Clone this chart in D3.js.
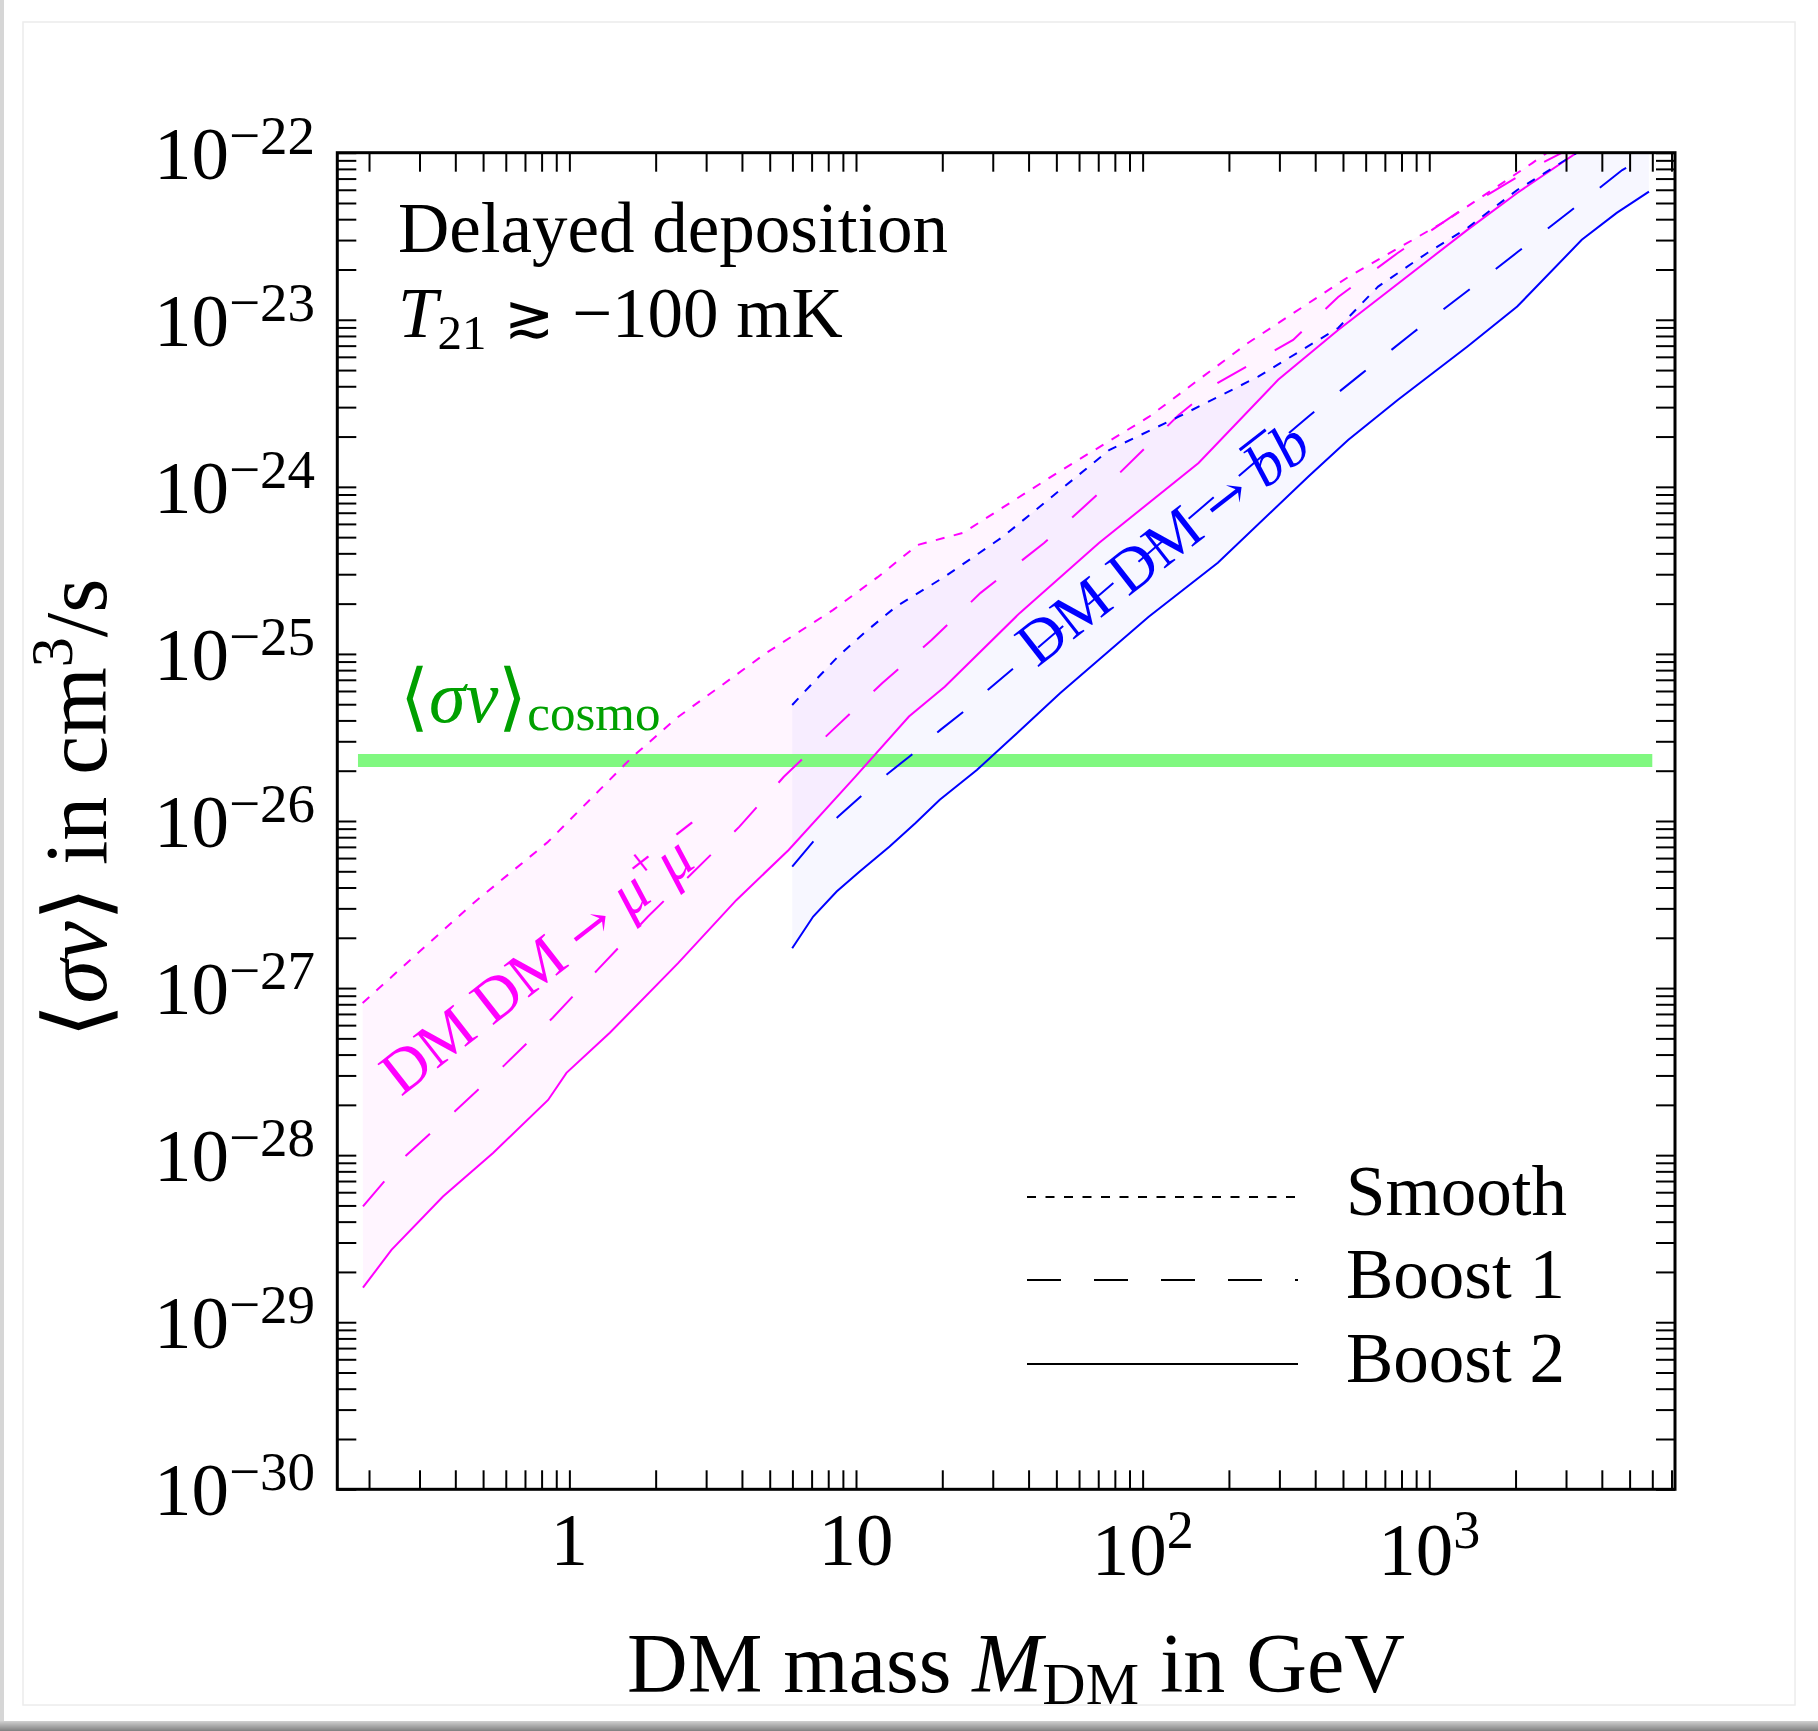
<!DOCTYPE html>
<html><head><meta charset="utf-8">
<script src="https://cdn.jsdelivr.net/npm/d3@7"></script>
<style>
body{margin:0;background:#fff}
svg{display:block}
text{font-family:"Liberation Serif","Times New Roman",serif}
</style>
</head><body><svg id="c" width="1818" height="1731"></svg>
<script>
// ---------- data (x: DM mass in GeV, y: <sigma v> in cm^3/s) ----------
const mumuSmooth = [[0.19,8.15e-28],[0.46,3.2e-27],[0.841,7.48e-27],[1.66,2.42e-26],[2.37,4.14e-26],[4.85,1.01e-25],[8.3,1.83e-25],[11.9,2.88e-25],[16.4,4.49e-25],[23.6,5.30e-25],[51,1.23e-24],[105,2.62e-24],[233,7.26e-24],[521,1.80e-23],[1153,3.95e-23],[2287,8.67e-23],[2580,1.0e-22]];
const mumuBoost1 = [[0.1905,4.93e-29],[0.27,1.0e-28],[0.404,1.87e-28],[0.595,3.47e-28],[0.875,6.64e-28],[1.256,1.29e-27],[1.877,2.67e-27],[3.92,9.25e-27],[5.6,1.84e-26],[8.3,3.51e-26],[12.36,6.70e-26],[18.35,1.21e-25],[27.2,2.32e-25],[45.3,4.61e-25],[70.5,9.18e-25],[133.6,2.69e-24],[183,4.19e-24],[335,7.57e-24],[481,1.37e-23],[776,2.51e-23],[1250,4.36e-23],[2323,8.20e-23],[2910,1.0e-22]];
const mumuBoost2 = [[0.1905,1.61e-29],[0.2395,2.71e-29],[0.3623,5.65e-29],[0.5417,1.03e-28],[0.843,2.14e-28],[0.977,3.11e-28],[1.384,5.40e-28],[2.395,1.41e-27],[3.83,3.37e-27],[5.82,6.71e-27],[9.97,1.85e-26],[15.3,4.22e-26],[20.4,6.37e-26],[37.3,1.76e-25],[70.4,4.61e-25],[156.7,1.39e-24],[297,4.37e-24],[481,8.69e-24],[1355,3.44e-23],[2027,5.74e-23],[3270,1.0e-22]];
const bbSmooth = [[5.99,4.95e-26],[6.96,6.52e-26],[8.65,9.64e-26],[10.7,1.34e-25],[13.8,1.92e-25],[20.4,2.90e-25],[32.6,5.04e-25],[76.4,1.66e-24],[133.6,2.63e-24],[253,4.57e-24],[481,8.93e-24],[663,1.58e-23],[984,2.51e-23],[1356,3.54e-23],[2027,5.98e-23],[3280,1.0e-22]];
const bbBoost1 = [[5.99,5.33e-27],[7.09,7.53e-27],[8.65,1.06e-26],[10.52,1.43e-26],[13.0,1.94e-26],[15.9,2.55e-26],[19.7,3.51e-26],[24.0,4.58e-26],[29.3,6.24e-26],[37.3,8.83e-26],[378,2.63e-24],[574,4.68e-24],[875,8.34e-24],[1334,1.45e-23],[2043,2.56e-23],[3108,4.48e-23],[4712,7.87e-23],[5860,9.68e-23]];
const bbBoost2 = [[5.99,1.73e-27],[7.09,2.68e-27],[8.56,3.78e-27],[10.3,4.98e-27],[13.1,7.03e-27],[16.1,9.70e-27],[19.6,1.34e-26],[26.4,2.02e-26],[35.4,3.20e-26],[51.5,5.82e-26],[105,1.67e-25],[183,3.51e-25],[378,1.15e-24],[521,1.91e-24],[776,3.31e-24],[1356,6.90e-24],[2027,1.20e-23],[3405,3.01e-23],[4508,4.36e-23],[5841,5.85e-23]];
const sigmaCosmo = 2.3e-26;
const cosmoRange = [0.183, 6000];
const xTickLabels = [{v:1,base:"1",exp:""},{v:10,base:"10",exp:""},{v:100,base:"10",exp:"2"},{v:1000,base:"10",exp:"3"}];
const yTickExps = [-30,-29,-28,-27,-26,-25,-24,-23,-22];
const legendLabels = ["Smooth","Boost 1","Boost 2"];
const X_DOMAIN = [0.155, 7200];
const Y_DOMAIN = [1e-30, 1e-22];

// ---------- layout ----------
const L = 337.3, R = 1675, T = 152.7, B = 1489.3;
const svg = d3.select("#c");
const x = d3.scaleLog().domain(X_DOMAIN).range([L, R]);
const y = d3.scaleLog().domain(Y_DOMAIN).range([B, T]);

// page decoration
svg.append("rect").attr("width",1818).attr("height",1731).attr("fill","#fff");
svg.append("rect").attr("x",0).attr("y",0).attr("width",4).attr("height",1731).attr("fill","#d6d6d6");
svg.append("rect").attr("x",23).attr("y",22).attr("width",1772).attr("height",1683).attr("fill","none").attr("stroke","#ececec").attr("stroke-width",1.5);
const defs = svg.append("defs");
const grad = defs.append("linearGradient").attr("id","bg").attr("x1",0).attr("y1",0).attr("x2",0).attr("y2",1);
grad.append("stop").attr("offset","0%").attr("stop-color","#d0d0d0");
grad.append("stop").attr("offset","100%").attr("stop-color","#808080");
svg.append("rect").attr("x",0).attr("y",1721).attr("width",1818).attr("height",10).attr("fill","url(#bg)");

defs.append("clipPath").attr("id","clip").append("rect").attr("x",L).attr("y",T).attr("width",R-L).attr("height",B-T);
const plot = svg.append("g").attr("clip-path","url(#clip)");

const line = d3.line().x(d=>x(d[0])).y(d=>y(d[1]));
function band(top, bot){
  const yTop = y.domain()[1];
  const pts = top.slice();
  const lastBot = bot[bot.length-1];
  pts.push([lastBot[0], yTop]);
  return pts.concat(bot.slice().reverse());
}
plot.append("path").attr("d", line(band(mumuSmooth, mumuBoost2)) + "Z").attr("fill","rgba(255,0,255,0.04)");
plot.append("path").attr("d", line(band(bbSmooth, bbBoost2)) + "Z").attr("fill","rgba(0,0,255,0.03)");

// green cosmo line
plot.append("line").attr("x1",x(cosmoRange[0])).attr("x2",x(cosmoRange[1]))
  .attr("y1",y(sigmaCosmo)).attr("y2",y(sigmaCosmo)).attr("stroke","#80f880").attr("stroke-width",13);

const styles = {smooth:"9,9.5", b1:"33,33", b2:null};
function curve(data, color, dash){
  const p = plot.append("path").attr("d", line(data)).attr("fill","none").attr("stroke",color).attr("stroke-width",2);
  if(dash) p.attr("stroke-dasharray",dash);
}
curve(mumuSmooth,"#ff00ff",styles.smooth);
curve(mumuBoost1,"#ff00ff",styles.b1);
curve(mumuBoost2,"#ff00ff",styles.b2);
curve(bbSmooth,"#0000ff",styles.smooth);
curve(bbBoost1,"#0000ff",styles.b1);
curve(bbBoost2,"#0000ff",styles.b2);

// ---------- ticks ----------
const xTicks = [];
for(let e=-1;e<=3;e++) for(let k=1;k<=9;k++){const v=k*Math.pow(10,e); if(v>=X_DOMAIN[0]&&v<=X_DOMAIN[1]) xTicks.push(v);}
const yTicks = [];
for(let e=-30;e<=-22;e++) for(let k=1;k<=9;k++){const v=k*Math.pow(10,e); if(v>=Y_DOMAIN[0]*0.999&&v<=Y_DOMAIN[1]*1.001) yTicks.push(v);}
const TL = 19;
function styleAxis(g){ g.select(".domain").remove(); g.selectAll("line").attr("stroke","#000").attr("stroke-width",2); g.selectAll("text").remove(); }
svg.append("g").attr("transform",`translate(0,${B})`).call(d3.axisBottom(x).tickValues(xTicks).tickSizeInner(-TL).tickSizeOuter(0)).call(styleAxis);
svg.append("g").attr("transform",`translate(0,${T})`).call(d3.axisTop(x).tickValues(xTicks).tickSizeInner(-TL).tickSizeOuter(0)).call(styleAxis);
svg.append("g").attr("transform",`translate(${L},0)`).call(d3.axisLeft(y).tickValues(yTicks).tickSizeInner(-TL).tickSizeOuter(0)).call(styleAxis);
svg.append("g").attr("transform",`translate(${R},0)`).call(d3.axisRight(y).tickValues(yTicks).tickSizeInner(-TL).tickSizeOuter(0)).call(styleAxis);
svg.append("rect").attr("x",L).attr("y",T).attr("width",R-L).attr("height",B-T).attr("fill","none").attr("stroke","#000").attr("stroke-width",3);

// x tick labels
xTickLabels.forEach(t=>{
  const tx = svg.append("text").attr("x",x(t.v)).attr("y", t.exp? 1575:1565).attr("text-anchor","middle").attr("font-size",75);
  tx.append("tspan").text(t.base);
  if(t.exp) tx.append("tspan").attr("font-size",54).attr("dy",-27).text(t.exp);
});
// y tick labels
yTickExps.forEach(e=>{
  const tx = svg.append("text").attr("x",315).attr("y", y(Math.pow(10,e))+26).attr("text-anchor","end").attr("font-size",75);
  tx.append("tspan").text("10");
  tx.append("tspan").attr("font-size",55).attr("dy",-25).text("\u2212"+Math.abs(e));
});

// axis titles
const xl = svg.append("text").attr("x",1016).attr("y",1692).attr("text-anchor","middle").attr("font-size",84);
xl.append("tspan").text("DM mass ");
xl.append("tspan").attr("font-style","italic").text("M");
xl.append("tspan").attr("font-size",60).attr("dy",12).text("DM");
xl.append("tspan").attr("dy",-12).text(" in GeV");

const yl = svg.append("text").attr("transform","translate(106,808) rotate(-90)").attr("text-anchor","middle").attr("font-size",88);
yl.append("tspan").text("\u27E8");
yl.append("tspan").attr("font-style","italic").text("\u03C3v");
yl.append("tspan").text("\u27E9 in cm");
yl.append("tspan").attr("font-size",60).attr("dy",-34).text("3");
yl.append("tspan").attr("dy",34).text("/s");

// annotations
svg.append("text").attr("x",398).attr("y",252).attr("font-size",71).text("Delayed deposition");
const t2 = svg.append("text").attr("x",398).attr("y",337).attr("font-size",71);
t2.append("tspan").attr("font-style","italic").text("T");
t2.append("tspan").attr("font-size",49).attr("dy",12).text("21");
t2.append("tspan").attr("dy",-12).text(" ");
t2.append("tspan").attr("font-family","'DejaVu Serif'").attr("font-size",60).text("\u2273");
t2.append("tspan").text(" \u2212100 mK");

const gc = svg.append("text").attr("x",400).attr("y",722).attr("font-size",74).attr("fill","#00a000");
gc.append("tspan").text("\u27E8");
gc.append("tspan").attr("font-style","italic").text("\u03C3v");
gc.append("tspan").text("\u27E9");
gc.append("tspan").attr("font-size",51).attr("dy",8).text("cosmo");

const ARROW_FONT = "'DejaVu Serif'";
const mt = svg.append("text").attr("transform","translate(401,1097) rotate(-38)").attr("font-size",62).attr("fill","#ff00ff");
mt.append("tspan").text("DM DM ");
mt.append("tspan").attr("font-family",ARROW_FONT).attr("font-size",52).text("\u2192");
mt.append("tspan").text(" ");
mt.append("tspan").attr("font-style","italic").text("\u03BC");
mt.append("tspan").attr("font-size",43).attr("dy",-23).text("+");
mt.append("tspan").attr("font-style","italic").attr("dy",23).text("\u03BC");
mt.append("tspan").attr("font-size",43).attr("dy",-23).text("\u2212");

const bg = svg.append("g").attr("transform","translate(1037,668) rotate(-38)");
const bt = bg.append("text").attr("x",0).attr("y",0).attr("font-size",62).attr("fill","#0000ff");
bt.append("tspan").text("DM DM ");
bt.append("tspan").attr("font-family",ARROW_FONT).attr("font-size",52).text("\u2192");
bt.append("tspan").text(" ");
bt.append("tspan").attr("font-style","italic").text("b");
bt.append("tspan").attr("font-style","italic").text("b");
// bar over the first b (antiparticle)
const nChars = bt.node().getNumberOfChars();
const ext = bt.node().getExtentOfChar(nChars-2);
bg.append("line").attr("x1",ext.x+4).attr("x2",ext.x+ext.width+6).attr("y1",-47).attr("y2",-47).attr("stroke","#0000ff").attr("stroke-width",3);

// legend
const legY = [1197,1280,1364];
const legDash = [styles.smooth, "34,33", null];
legendLabels.forEach((lab,i)=>{
  const ln = svg.append("line").attr("x1",1027).attr("x2",1298).attr("y1",legY[i]).attr("y2",legY[i]).attr("stroke","#000").attr("stroke-width",2);
  if(legDash[i]) ln.attr("stroke-dasharray",legDash[i]);
  svg.append("text").attr("x",1346).attr("y",legY[i]+18).attr("font-size",71).text(lab);
});
</script>
</body></html>
